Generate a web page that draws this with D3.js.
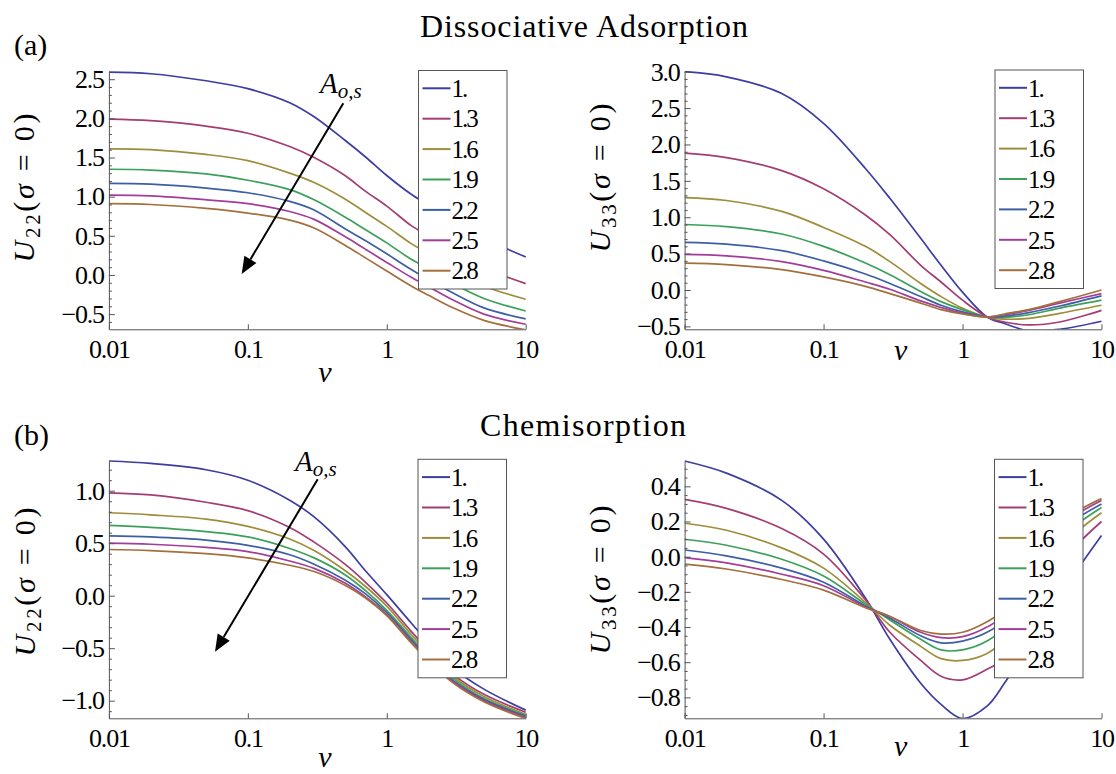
<!DOCTYPE html>
<html>
<head>
<meta charset="utf-8">
<script src="https://cdn.jsdelivr.net/npm/d3@7"></script>
<style>
  body { margin: 0; background: #fff; }
  svg { display: block; font-family: "Liberation Serif", "Times New Roman", serif; }
  .axis path, .axis line { stroke: #555; stroke-width: 1; }
  .legend text { font-size: 25px; letter-spacing: -2px; fill: #000; }
</style>
</head>
<body>
<div class="chart"></div>
<script>
// Data
// ==============================
var nu = [0.01, 0.02, 0.05, 0.1, 0.2, 0.3, 0.5, 0.7, 1, 1.5, 2, 3, 5, 10];
var aValues = ["1.", "1.3", "1.6", "1.9", "2.2", "2.5", "2.8"];
var colors = ["#3d3da3", "#a33d73", "#9e8d3a", "#3ba15a", "#3d5fa3", "#a33d9a", "#a3703d"];

// Dissociative Adsorption, U22(sigma = 0), one row per A value
var dissU22 = [
    [2.59, 2.57, 2.48, 2.38, 2.20, 2.02, 1.72, 1.51, 1.27, 1.03, 0.89, 0.69, 0.47, 0.23],
    [1.99, 1.97, 1.90, 1.81, 1.64, 1.50, 1.27, 1.07, 0.88, 0.63, 0.50, 0.30, 0.09, -0.11],
    [1.61, 1.60, 1.54, 1.46, 1.30, 1.18, 0.97, 0.80, 0.62, 0.40, 0.27, 0.06, -0.14, -0.31],
    [1.35, 1.34, 1.29, 1.21, 1.09, 0.96, 0.74, 0.58, 0.41, 0.20, 0.08, -0.11, -0.30, -0.46],
    [1.17, 1.16, 1.11, 1.05, 0.94, 0.83, 0.59, 0.44, 0.27, 0.07, -0.06, -0.23, -0.42, -0.56],
    [1.02, 1.01, 0.96, 0.91, 0.81, 0.71, 0.49, 0.33, 0.16, -0.03, -0.15, -0.32, -0.50, -0.63],
    [0.91, 0.90, 0.85, 0.79, 0.70, 0.60, 0.38, 0.22, 0.05, -0.14, -0.26, -0.42, -0.58, -0.70]
];

// Dissociative Adsorption, U33(sigma = 0)
var dissU33 = [
    [3.00, 2.93, 2.70, 2.29, 1.67, 1.26, 0.71, 0.34, -0.03, -0.37, -0.46, -0.56, -0.54, -0.43],
    [1.88, 1.82, 1.64, 1.39, 1.03, 0.76, 0.34, 0.11, -0.14, -0.37, -0.44, -0.48, -0.44, -0.28],
    [1.27, 1.23, 1.08, 0.86, 0.60, 0.39, 0.09, -0.09, -0.25, -0.37, -0.40, -0.39, -0.32, -0.21],
    [0.90, 0.87, 0.77, 0.60, 0.37, 0.21, -0.02, -0.16, -0.27, -0.37, -0.375, -0.34, -0.25, -0.14],
    [0.655, 0.63, 0.54, 0.40, 0.22, 0.09, -0.09, -0.21, -0.30, -0.37, -0.36, -0.31, -0.22, -0.08],
    [0.49, 0.47, 0.39, 0.27, 0.11, 0.01, -0.15, -0.24, -0.32, -0.37, -0.34, -0.28, -0.18, -0.05],
    [0.37, 0.35, 0.28, 0.18, 0.05, -0.05, -0.18, -0.27, -0.33, -0.37, -0.33, -0.27, -0.16, 0.00]
];

// Chemisorption, U22(sigma = 0)
var chemU22 = [
    [1.283, 1.26, 1.20, 1.10, 0.91, 0.75, 0.47, 0.24, 0.01, -0.26, -0.45, -0.69, -0.89, -1.09],
    [0.98, 0.96, 0.89, 0.81, 0.65, 0.51, 0.30, 0.13, -0.07, -0.34, -0.52, -0.75, -0.94, -1.11],
    [0.79, 0.77, 0.73, 0.66, 0.54, 0.43, 0.24, 0.09, -0.10, -0.37, -0.55, -0.77, -0.96, -1.13],
    [0.67, 0.65, 0.61, 0.56, 0.45, 0.36, 0.20, 0.05, -0.14, -0.40, -0.58, -0.79, -0.98, -1.14],
    [0.57, 0.56, 0.53, 0.48, 0.39, 0.30, 0.15, 0.02, -0.16, -0.42, -0.60, -0.81, -0.99, -1.15],
    [0.50, 0.49, 0.46, 0.42, 0.33, 0.26, 0.12, -0.01, -0.18, -0.44, -0.61, -0.82, -1.00, -1.16],
    [0.44, 0.43, 0.40, 0.36, 0.29, 0.23, 0.10, -0.02, -0.19, -0.45, -0.62, -0.83, -1.01, -1.17]
];

// Chemisorption, U33(sigma = 0)
var chemU33 = [
    [0.544, 0.475, 0.32, 0.10, -0.235, -0.47, -0.72, -0.84, -0.92, -0.85, -0.72, -0.50, -0.22, 0.12],
    [0.326, 0.275, 0.16, 0.015, -0.245, -0.43, -0.59, -0.68, -0.70, -0.64, -0.58, -0.33, -0.04, 0.20],
    [0.19, 0.15, 0.05, -0.065, -0.26, -0.39, -0.51, -0.58, -0.59, -0.55, -0.47, -0.23, 0.05, 0.25],
    [0.099, 0.065, -0.015, -0.11, -0.27, -0.36, -0.47, -0.53, -0.53, -0.48, -0.40, -0.16, 0.10, 0.28],
    [0.038, 0.005, -0.065, -0.145, -0.28, -0.35, -0.45, -0.49, -0.48, -0.43, -0.36, -0.12, 0.14, 0.30],
    [-0.005, -0.035, -0.10, -0.165, -0.285, -0.34, -0.43, -0.46, -0.455, -0.40, -0.33, -0.09, 0.17, 0.32],
    [-0.042, -0.07, -0.13, -0.19, -0.29, -0.34, -0.42, -0.44, -0.43, -0.37, -0.30, -0.06, 0.19, 0.33]
];

// Tick values and labels
var xTicks = [0.01, 0.1, 1, 10];
var xTickLabels = ["0.01", "0.1", "1", "10"];
var dissU22Ticks = [-0.5, 0, 0.5, 1, 1.5, 2, 2.5];
var dissU22Labels = ["\u22120.5", "0.0", "0.5", "1.0", "1.5", "2.0", "2.5"];
var dissU33Ticks = [-0.5, 0, 0.5, 1, 1.5, 2, 2.5, 3];
var dissU33Labels = ["\u22120.5", "0.0", "0.5", "1.0", "1.5", "2.0", "2.5", "3.0"];
var chemU22Ticks = [-1, -0.5, 0, 0.5, 1];
var chemU22Labels = ["\u22121.0", "\u22120.5", "0.0", "0.5", "1.0"];
var chemU33Ticks = [-0.8, -0.6, -0.4, -0.2, 0, 0.2, 0.4];
var chemU33Labels = ["\u22120.8", "\u22120.6", "\u22120.4", "\u22120.2", "0.0", "0.2", "0.4"];

// Panel layout
// ==============================
var panels = [
    { data: dissU22, ticks: dissU22Ticks, labels: dissU22Labels, minor: 0.1, yDomain: [-0.694, 2.596],
      left: 108.9, right: 525.7, top: 71.7, bottom: 329.3, sub: "22", ylabX: 34, ylabY: 188,
      xlabX: 325, xlabY: 382, legend: [418.5, 70.5] },
    { data: dissU33, ticks: dissU33Ticks, labels: dissU33Labels, minor: 0.1, yDomain: [-0.54, 3.0],
      left: 684.6, right: 1101.5, top: 71.7, bottom: 329.3, sub: "33", ylabX: 610, ylabY: 178,
      xlabX: 900.6, xlabY: 360, legend: [995, 70] },
    { data: chemU22, ticks: chemU22Ticks, labels: chemU22Labels, minor: 0.1, yDomain: [-1.168, 1.283],
      left: 108.9, right: 525.7, top: 461, bottom: 718.3, sub: "22", ylabX: 35, ylabY: 582,
      xlabX: 325, xlabY: 767, legend: [418, 459.3] },
    { data: chemU33, ticks: chemU33Ticks, labels: chemU33Labels, minor: 0.05, yDomain: [-0.919, 0.544],
      left: 684.6, right: 1101.5, top: 461, bottom: 718.3, sub: "33", ylabX: 610, ylabY: 580,
      xlabX: 900.6, xlabY: 756, legend: [994.5, 459.3] }
];

var serif = "'Liberation Serif', 'Times New Roman', serif";

var svgWidth = 1116;
var svgHeight = 774;

var svg = d3.select(".chart")
    .append("svg")
    .attr("width", svgWidth)
    .attr("height", svgHeight);

// restyle the tick labels that d3 draws in sans-serif
function styleTicks(g) {
    g.attr("font-family", null).attr("font-size", null);
    g.selectAll(".tick text")
        .style("font-family", serif)
        .style("font-size", "26px")
        .style("letter-spacing", "-1.2px")
        .attr("fill", "#000");
}

panels.forEach(function (p, k) {

    // Step 1: scales
    var xLogScale = d3.scaleLog().domain([0.01, 10]).range([p.left, p.right]);
    var yLinearScale = d3.scaleLinear().domain(p.yDomain).range([p.bottom, p.top]);

    // Step 2: curves, clipped to the plot range
    svg.append("clipPath")
        .attr("id", "clip" + k)
        .append("rect")
        .attr("x", p.left)
        .attr("y", p.top - 1)
        .attr("width", p.right - p.left + 1)
        .attr("height", p.bottom - p.top + 1);

    var line = d3.line()
        .x(function (d, i) { return xLogScale(nu[i]); })
        .y(function (d) { return yLinearScale(d); })
        .curve(d3.curveCatmullRom.alpha(0.5));

    svg.append("g")
        .attr("clip-path", "url(#clip" + k + ")")
        .selectAll("path")
        .data(p.data)
        .enter()
        .append("path")
        .attr("d", line)
        .attr("fill", "none")
        .attr("stroke", function (d, i) { return colors[i]; })
        .attr("stroke-width", 1.7);

    // Step 3: axes (ticks point inward like Mathematica)
    var bottomAxis = d3.axisBottom(xLogScale)
        .tickValues(xTicks)
        .tickFormat(function (d, i) { return xTickLabels[i]; })
        .tickSizeInner(-5)
        .tickSizeOuter(0)
        .tickPadding(10);

    svg.append("g")
        .attr("class", "axis")
        .attr("transform", "translate(0," + p.bottom + ")")
        .call(bottomAxis)
        .call(styleTicks);

    var minorTicks = d3.range(Math.ceil(p.yDomain[0] / p.minor), Math.floor(p.yDomain[1] / p.minor) + 1)
        .map(function (n) { return +(n * p.minor).toFixed(3); })
        .filter(function (v) { return p.ticks.indexOf(v) < 0; });

    var minorAxis = d3.axisLeft(yLinearScale)
        .tickValues(minorTicks)
        .tickFormat("")
        .tickSizeInner(-3)
        .tickSizeOuter(0);

    svg.append("g")
        .attr("class", "axis")
        .attr("transform", "translate(" + p.left + ",0)")
        .call(minorAxis)
        .select(".domain").remove();

    var leftAxis = d3.axisLeft(yLinearScale)
        .tickValues(p.ticks)
        .tickFormat(function (d, i) { return p.labels[i]; })
        .tickSizeInner(-6)
        .tickSizeOuter(0)
        .tickPadding(5);

    svg.append("g")
        .attr("class", "axis")
        .attr("transform", "translate(" + p.left + ",0)")
        .call(leftAxis)
        .call(styleTicks);

    // Step 4: legend
    var legend = svg.append("g")
        .attr("class", "legend")
        .attr("transform", "translate(" + p.legend[0] + "," + p.legend[1] + ")");

    legend.append("rect")
        .attr("width", 88.5)
        .attr("height", 218.5)
        .attr("fill", "#fff")
        .attr("stroke", "#555")
        .attr("stroke-width", 1);

    var rows = legend.selectAll("g.row")
        .data(aValues)
        .enter()
        .append("g")
        .attr("class", "row")
        .attr("transform", function (d, i) { return "translate(0," + (17.8 + i * 30.4) + ")"; });

    rows.append("line")
        .attr("x1", 4)
        .attr("x2", 32)
        .attr("stroke", function (d, i) { return colors[i]; })
        .attr("stroke-width", 2);

    rows.append("text")
        .attr("x", 33)
        .attr("dy", "0.35em")
        .style("font-family", serif)
        .text(function (d) { return d; });

    // Step 5: axis labels
    var ylab = svg.append("text")
        .attr("transform", "translate(" + p.ylabX + "," + p.ylabY + ") rotate(-90)")
        .attr("text-anchor", "middle")
        .attr("textLength", 149)
        .attr("lengthAdjust", "spacing")
        .style("font-family", serif)
        .style("font-size", "30px");
    ylab.append("tspan").style("font-style", "italic").text("U");
    ylab.append("tspan").attr("dy", 6).style("font-size", "21px").text(p.sub);
    ylab.append("tspan").attr("dy", -6).text("(");
    ylab.append("tspan").style("font-style", "italic").text("\u03c3");
    ylab.append("tspan").text(" = 0)");

    svg.append("text")
        .attr("x", p.xlabX)
        .attr("y", p.xlabY)
        .attr("text-anchor", "middle")
        .style("font-family", serif)
        .style("font-size", "30px")
        .style("font-style", "italic")
        .text("v");
});

// Titles and panel tags
svg.append("text")
    .attr("x", 584).attr("y", 37)
    .attr("text-anchor", "middle")
    .attr("textLength", 328).attr("lengthAdjust", "spacing")
    .style("font-family", serif)
    .style("font-size", "32px")
    .text("Dissociative Adsorption");

svg.append("text")
    .attr("x", 583).attr("y", 436)
    .attr("text-anchor", "middle")
    .attr("textLength", 206).attr("lengthAdjust", "spacing")
    .style("font-family", serif)
    .style("font-size", "32px")
    .text("Chemisorption");

svg.append("text").attr("x", 14).attr("y", 55).style("font-family", serif).style("font-size", "30px").text("(a)");
svg.append("text").attr("x", 14).attr("y", 445).style("font-family", serif).style("font-size", "30px").text("(b)");

// Arrows with the A_{o,s} label on the left panels
var arrows = [
    { x1: 343.3, y1: 103.3, x2: 241.7, y2: 274, lx: 320, ly: 93 },
    { x1: 317.7, y1: 479.3, x2: 215, y2: 651.7, lx: 295, ly: 471 }
];

arrows.forEach(function (a) {
    var dx = a.x2 - a.x1, dy = a.y2 - a.y1;
    var len = Math.sqrt(dx * dx + dy * dy);
    var ux = dx / len, uy = dy / len;
    var headLen = 17, headW = 7;
    var bx = a.x2 - ux * headLen, by = a.y2 - uy * headLen;

    svg.append("line")
        .attr("x1", a.x1).attr("y1", a.y1)
        .attr("x2", bx).attr("y2", by)
        .attr("stroke", "#000")
        .attr("stroke-width", 2);

    svg.append("polygon")
        .attr("points", [
            [a.x2, a.y2],
            [bx - uy * headW, by + ux * headW],
            [bx + uy * headW, by - ux * headW]
        ].map(function (q) { return q.join(","); }).join(" "))
        .attr("fill", "#000");

    var lab = svg.append("text")
        .attr("x", a.lx)
        .attr("y", a.ly)
        .style("font-family", serif)
        .style("font-style", "italic")
        .style("font-size", "29px");
    lab.append("tspan").text("A");
    lab.append("tspan").attr("dy", 5).style("font-size", "21px").text("o,s");
});
</script>
</body>
</html>
